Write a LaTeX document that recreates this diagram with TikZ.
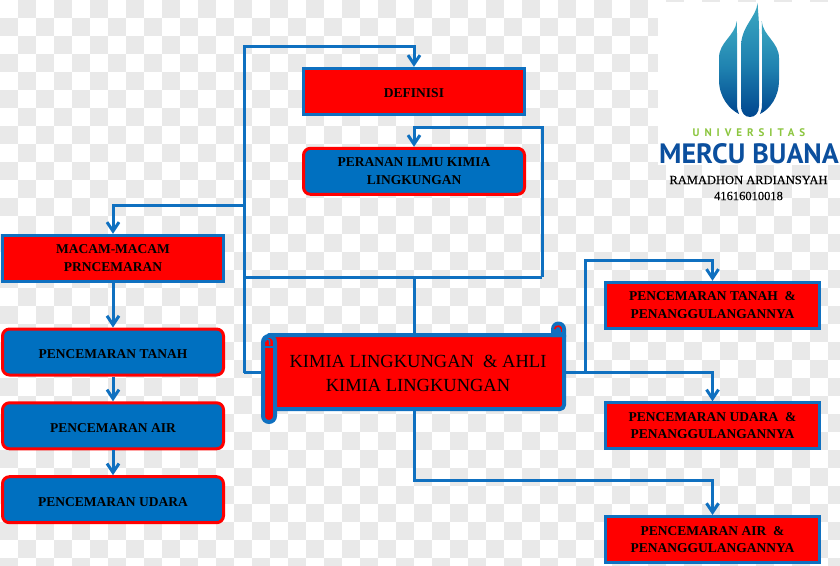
\documentclass[tikz,border=0pt]{standalone}
\usepackage{fontspec}
\setmainfont{Liberation Serif}
\newfontfamily\logofont{PT Sans}
\newfontfamily\logospaced[LetterSpace=45]{PT Sans}
\newfontfamily\authorfont[FakeBold=0.35]{Liberation Serif}
\usetikzlibrary{arrows.meta,calc}
\definecolor{lineblue}{HTML}{0F70C0}
\definecolor{boxblue}{HTML}{0070C0}
\definecolor{checker}{HTML}{E9E9E9}
\definecolor{logotop}{HTML}{3CA9C2}
\definecolor{logomid}{HTML}{1F82B0}
\definecolor{logobot}{HTML}{00478F}
\definecolor{logogreen}{HTML}{8CC63F}
\definecolor{mercu}{HTML}{0B4F9E}
\tikzset{
  redbox/.style={draw=lineblue,fill=red,line width=3pt,minimum width=221pt,minimum height=46pt,inner sep=0pt,align=center,font=\fontsize{13.5}{17.5}\selectfont\bfseries,execute at begin node={\rule{0pt}{13pt}}},
  bluebox/.style={draw=red,fill=boxblue,line width=3pt,rounded corners=7pt,minimum width=221pt,minimum height=46pt,inner sep=0pt,align=center,font=\fontsize{13.5}{17.5}\selectfont\bfseries,execute at begin node={\rule{0pt}{13pt}}},
  twoline/.style={execute at begin node={\vspace*{3pt}}},
  link/.style={draw=lineblue,line width=3pt},
  arrowlink/.style={link,-{Straight Barb[length=9pt,width=12pt,line width=3pt]}},
}
\begin{document}
\begin{tikzpicture}[x=1pt,y=-1pt]
\useasboundingbox (0,0) rectangle (840,565);
\fill[white] (0,0) rectangle (840,565);
\foreach \i in {0,...,46}{\foreach \j in {0,...,31}{%
  \pgfmathparse{int(mod(\i+\j,2))}%
  \ifnum\pgfmathresult=1 \fill[checker] ({\i*18},{\j*18}) rectangle ++(18,18);\fi}}
\fill[white] (658,2) rectangle (840,165);
% logo
\shade[top color=logotop,bottom color=logobot,middle color=logomid]
  (757.6,3) .. controls (756,18) and (741,26) .. (741,47) -- (741,106)
  .. controls (741,113) and (745,117) .. (750,117)
  .. controls (755,117) and (759,113) .. (759,106) -- (759,30) .. controls (759,20) and (758,12) .. (757.6,3) -- cycle;
\shade[top color=logotop,bottom color=logobot,middle color=logomid]
  (736.8,21) .. controls (735,36) and (719,42) .. (719,58) -- (719,80)
  .. controls (719,97) and (729,109) .. (739,114)
  .. controls (737.5,111) and (737,108) .. (737,103) -- (737,40) .. controls (737,33) and (737,27) .. (736.8,21) -- cycle;
\shade[top color=logotop,bottom color=logobot,middle color=logomid]
  (761.7,21) .. controls (763,36) and (779,42) .. (779,58) -- (779,80)
  .. controls (779,97) and (770,109) .. (760,114)
  .. controls (761.5,111) and (762,108) .. (762,103) -- (762,40) .. controls (762,33) and (762,27) .. (761.7,21) -- cycle;
\node[text=logogreen,inner sep=0pt,font=\fontsize{11}{12}\logospaced\bfseries] (univ) at (749,133) {UNIVERSITAS};
\node[text=mercu,inner sep=0pt,font=\fontsize{28}{29}\logofont\bfseries] (mercu) at (749,154) {MERCU BUANA};
\node[inner sep=0pt,align=center,font=\fontsize{12.5}{16}\authorfont] (author) at (748.5,188) {RAMADHON ARDIANSYAH\\41616010018};
% boxes
\node[redbox] (def) at (414,91.3) {DEFINISI};
\node[bluebox,twoline] (peran) at (414,171.3) {PERANAN ILMU KIMIA\\LINGKUNGAN};
\node[redbox,twoline] (macam) at (113,258.3) {MACAM-MACAM\\PRNCEMARAN};
\node[bluebox] (tanah) at (113,352) {PENCEMARAN TANAH};
\node[bluebox] (air) at (113,425.8) {PENCEMARAN AIR};
\node[bluebox] (udara) at (113,499.7) {PENCEMARAN UDARA};
\node[redbox,twoline,minimum width=213.7pt] (rtanah) at (712.5,305.3) {PENCEMARAN TANAH \ \&\\PENANGGULANGANNYA};
\node[redbox,twoline,minimum width=213.7pt] (rudara) at (712.5,425.8) {PENCEMARAN UDARA \ \&\\PENANGGULANGANNYA};
\node[redbox,twoline,minimum width=213.7pt] (rair) at (712.5,539.5) {PENCEMARAN AIR \ \&\\PENANGGULANGANNYA};
% junctions
\coordinate (jc) at (414,277);
\coordinate (jl) at (244,277);
\coordinate (jr) at (542,277);
\coordinate (jpt) at (542,127);
\coordinate (jpe) at (414,127);
\coordinate (jls) at (244,372.5);
\coordinate (jlt) at (244,46);
\coordinate (jde) at (414,46);
\coordinate (jmm) at (244,205);
\coordinate (jme) at (113,205);
\coordinate (jrb) at (585,372.5);
\coordinate (jrt) at (585,260.5);
\coordinate (jrc) at (712.5,260.5);
\coordinate (jru) at (712.5,372.5);
\coordinate (jbl) at (414,480);
\coordinate (jbr) at (712.5,480);
% scroll node (shape drawn below)
\node[inner sep=0pt,minimum width=298pt,minimum height=76pt] (scroll) at (414,372.5) {};
% connectors
\draw[link] (scroll.north) -- (jc);
\draw[link] (jl) -- (jr);
\draw[arrowlink] (jr) -- (jpt) -- (jpe) -- (peran.north);
\draw[arrowlink] (jls) -- (jlt) -- (jde) -- (def.north);
\draw[link] (jls) -- (scroll.west);
\draw[arrowlink] (jmm) -- (jme) -- (macam.north);
\draw[arrowlink] (macam.south) -- (tanah.north);
\draw[arrowlink] (tanah.south) -- (air.north);
\draw[arrowlink] (air.south) -- (udara.north);
\draw[arrowlink] (scroll.east) -- (jru) -- (rudara.north);
\draw[arrowlink] (jrb) -- (jrt) -- (jrc) -- (rtanah.north);
\draw[arrowlink] (scroll.south) -- (jbl) -- (jbr) -- (rair.north);
% scroll shape
\path[draw=lineblue,fill=red,line width=4pt,line join=round]
  (269,335) -- (564,335) -- (564,405) arc[start angle=0,end angle=90,radius=4] -- (269,409) -- cycle;
\fill[lineblue] (551,337) -- (551,329) arc[start angle=180,end angle=360,radius=7.5] -- (566,337) -- cycle;
\draw[red,line width=1.6pt] (554.6,329) arc[start angle=190,end angle=350,radius=3.5];
\draw[red,line width=1.6pt] (561.5,329) -- (561.5,331.5);
\path[draw=lineblue,fill=red,line width=4pt]
  (263,342) arc[start angle=180,end angle=360,radius=6] -- (275,416) arc[start angle=0,end angle=180,radius=6] -- cycle;
\draw[lineblue,line width=1.5pt] (269.5,345) -- (269.5,341) arc[start angle=0,end angle=-200,radius=2];
\draw[lineblue,line width=1.8pt] (263,347) -- (275,347);
\node[inner sep=0pt,align=center,font=\fontsize{18.5}{24}\selectfont] (scrolltext) at (418,373.5) {KIMIA LINGKUNGAN \ \& AHLI\\KIMIA LINGKUNGAN};
\end{tikzpicture}
\end{document}
